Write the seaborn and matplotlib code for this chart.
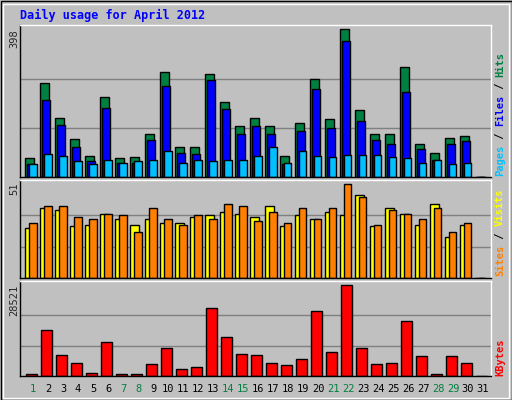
import matplotlib
matplotlib.use("Agg")
import matplotlib.pyplot as plt
import seaborn as sns
from matplotlib.patches import Rectangle

sns.set_style("white")
plt.rcParams['font.family'] = ['DejaVu Sans Mono', 'DejaVu Sans']

days = list(range(1, 32))
hits = [50,254,160,101,56,214,50,53,115,283,80,82,278,203,136,158,136,56,144,265,155,398,179,117,115,295,88,64,104,109,0]
files = [34,206,139,80,42,185,37,37,99,244,64,61,260,182,115,136,115,34,125,238,131,367,152,99,88,228,74,45,88,96,0]
pages = [34,61,56,42,34,47,39,42,47,69,37,45,42,45,47,56,80,37,69,56,53,58,58,58,53,50,37,47,34,39,0]
sites = [27,38,37,28,29,35,32,29,32,30,30,33,34,36,35,33,39,28,34,32,36,34,45,28,38,35,29,40,22,29,0]
visits = [30,39,39,33,32,35,34,25,38,32,29,34,32,40,39,31,36,30,38,32,38,51,44,29,37,35,32,38,25,30,0]
kbytes = [729,14470,6660,4160,1040,10720,729,729,3850,8850,2290,2910,21340,12280,6970,6660,4160,3540,5410,20400,7600,28521,8850,3850,4160,17280,6350,729,6350,4160,0]
weekend = [1,7,8,14,15,21,22,28,29]

W, H = 512, 400
fig = plt.figure(figsize=(W/100, H/100), dpi=100)
fig.patch.set_facecolor('#c0c0c0')
# frame
fig.add_artist(Rectangle((0.5/W, 0.5/H), (W-1)/W, (H-1)/H, transform=fig.transFigure, fill=False, ec='black', lw=1))
fig.add_artist(Rectangle((2.5/W, 2.5/H), (W-6)/W, (H-6)/H, transform=fig.transFigure, fill=False, ec='white', lw=1))

def ax_at(x0, y0, x1, y1):
    return fig.add_axes([x0/W, 1-y1/H, (x1-x0)/W, (y1-y0)/H])

XL = (0, 471/15)
def style(ax, ymax, grid):
    ax.set_facecolor('#c0c0c0')
    ax.set_xlim(*XL); ax.set_ylim(0, ymax)
    ax.set_xticks([]); ax.set_yticks([])
    for g in grid:
        ax.axhline(g, color='#808080', lw=1, zorder=0)
    ax.spines['left'].set_color('black'); ax.spines['bottom'].set_color('black')
    ax.spines['top'].set_color('white'); ax.spines['right'].set_color('white')
    for s in ax.spines.values():
        s.set_linewidth(1)

bx = [d-1+0.333 for d in days]
kw = dict(align='edge', edgecolor='black', linewidth=1)

ax1 = ax_at(20, 25, 491, 177)
style(ax1, 409, [133, 265])
ax1.bar(bx, hits, width=0.6, color='#008040', **kw)
ax1.bar([x+0.133 for x in bx], files, width=0.52, color='#0000ff', **kw)
ax1.bar([x+0.267 for x in bx], pages, width=0.5, color='#00c0ff', **kw)

ax2 = ax_at(20, 180, 491, 278)
style(ax2, 53.2, [17, 34])
ax2.bar(bx, sites, width=0.6, color='#ffff00', **kw)
ax2.bar([x+0.267 for x in bx], visits, width=0.5, color='#ff8000', **kw)

ax3 = ax_at(20, 281, 491, 376)
style(ax3, 29775, [9507, 19014])
ax3.bar([x+0.067 for x in bx], kbytes, width=0.71, color='#ff0000', **kw)

for d in days:
    fig.text((20 + (d-1+0.87)*15)/W, 1-389/H, str(d), ha='center', va='center', fontsize=7.5,
             color='#008040' if d in weekend else 'black')

fig.text(20/W, 1-15/H, 'Daily usage for April 2012', color='#0000ff', fontsize=8.5,
         fontweight='bold', va='center', ha='left')
for y, s in [(29, '398'), (182, '51'), (285, '28521')]:
    fig.text(14/W, 1-y/H, s, rotation=90, ha='center', va='top', fontsize=7.5)

def right_label(ybot, parts):
    t = fig.text(500/W, 1-ybot/H, '', rotation=90)
    y = ybot
    for s, c in parts:
        tx = fig.text(500/W, 1-y/H, s, rotation=90, ha='center', va='bottom', color=c,
                      fontsize=7.5, fontweight='bold')
        y -= len(s) * 6.2

right_label(176, [('Pages', '#00c0ff'), (' / ', 'black'), ('Files', '#0000ff'), (' / ', 'black'), ('Hits', '#008040')])
right_label(276, [('Sites', '#ff8000'), (' / ', 'black'), ('Visits', '#ffff00')])
right_label(376, [('KBytes', '#ff0000')])

fig.savefig('out.png', dpi=100, facecolor=fig.get_facecolor())
